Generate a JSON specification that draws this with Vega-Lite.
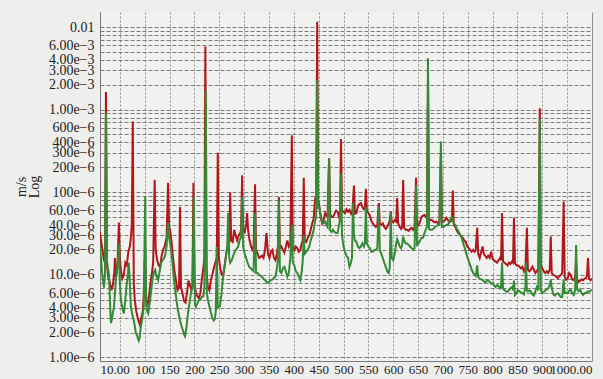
{
  "$schema": "https://vega.github.io/schema/vega-lite/v6.json",
  "width": 492,
  "height": 349,
  "autosize": {"type": "none"},
  "padding": {"left": 100, "top": 12, "right": 11, "bottom": 18},
  "background": "#eeeeec",
  "config": {
    "view": {"stroke": null, "fill": "#f1f1ef"},
    "font": "Liberation Serif"
  },
  "datasets": {
    "R": [
{"f":10,"y":3.3e-5},{"f":12,"y":2.6e-5},{"f":15,"y":2.0e-5},{"f":18,"y":1.5e-5},{"f":20,"y":1.4e-5},{"f":22,"y":1.63e-3},{"f":24,"y":1.3e-5},{"f":27,"y":9e-6},{"f":30,"y":8e-6},{"f":33,"y":6.5e-6},{"f":36,"y":7.5e-6},{"f":39,"y":1.1e-5},{"f":40,"y":1.6e-5},{"f":42,"y":9.4e-6},{"f":45,"y":1.2e-5},{"f":48,"y":4.3e-5},{"f":50,"y":1.6e-5},{"f":52,"y":1.14e-5},{"f":55,"y":9e-6},{"f":58,"y":1.0e-5},{"f":61,"y":1.4e-5},{"f":64,"y":1.3e-5},{"f":67,"y":1.9e-5},{"f":70,"y":2.2e-5},{"f":72,"y":2.8e-5},{"f":74,"y":4e-5},{"f":76,"y":7.2e-4},{"f":78,"y":8e-6},{"f":80,"y":5e-6},{"f":83,"y":3.6e-6},{"f":86,"y":3.0e-6},{"f":88,"y":2.7e-6},{"f":90,"y":2.5e-6},{"f":93,"y":3.0e-6},{"f":96,"y":3.6e-6},{"f":98,"y":5.5e-6},{"f":100,"y":1.5e-5},{"f":102,"y":6e-6},{"f":105,"y":4.2e-6},{"f":108,"y":5.0e-6},{"f":111,"y":7.5e-6},{"f":114,"y":1.0e-5},{"f":117,"y":1.4e-5},{"f":120,"y":1.41e-4},{"f":122,"y":2e-5},{"f":125,"y":1.5e-5},{"f":128,"y":1.3e-5},{"f":131,"y":1.25e-5},{"f":134,"y":1.7e-5},{"f":137,"y":2.0e-5},{"f":140,"y":2.2e-5},{"f":142,"y":2.5e-5},{"f":144,"y":2.8e-5},{"f":147,"y":1.3e-4},{"f":149,"y":3.8e-5},{"f":151,"y":3.5e-5},{"f":154,"y":2.5e-5},{"f":157,"y":1.6e-5},{"f":160,"y":1.1e-5},{"f":163,"y":8.5e-6},{"f":166,"y":6.5e-6},{"f":169,"y":7e-6},{"f":171,"y":6.6e-5},{"f":173,"y":7e-6},{"f":176,"y":6.0e-6},{"f":179,"y":4.8e-6},{"f":182,"y":4.6e-6},{"f":185,"y":6e-6},{"f":188,"y":8.5e-6},{"f":191,"y":7.5e-6},{"f":194,"y":6.5e-6},{"f":196,"y":7e-6},{"f":198,"y":1.3e-4},{"f":200,"y":8e-6},{"f":203,"y":6e-6},{"f":206,"y":5.5e-6},{"f":209,"y":5.2e-6},{"f":212,"y":6e-6},{"f":215,"y":9e-6},{"f":218,"y":1.2e-5},{"f":220,"y":1.6e-5},{"f":222,"y":5.8e-3},{"f":224,"y":1.2e-5},{"f":227,"y":7e-6},{"f":230,"y":6.5e-6},{"f":233,"y":8.5e-6},{"f":236,"y":1.0e-5},{"f":239,"y":1.2e-5},{"f":242,"y":1.4e-5},{"f":245,"y":1.6e-5},{"f":247,"y":3.0e-4},{"f":249,"y":1.6e-5},{"f":252,"y":1.2e-5},{"f":255,"y":1.0e-5},{"f":258,"y":1.0e-5},{"f":261,"y":1.3e-5},{"f":264,"y":1.8e-5},{"f":267,"y":2.2e-5},{"f":270,"y":2.4e-5},{"f":272,"y":1.0e-4},{"f":274,"y":2.6e-5},{"f":277,"y":2.5e-5},{"f":280,"y":3.5e-5},{"f":283,"y":3.0e-5},{"f":286,"y":2.6e-5},{"f":289,"y":3.0e-5},{"f":292,"y":3.2e-5},{"f":294,"y":3.5e-5},{"f":296,"y":1.6e-4},{"f":298,"y":3.5e-5},{"f":301,"y":3.3e-5},{"f":304,"y":4e-5},{"f":306,"y":5.6e-5},{"f":308,"y":3.5e-5},{"f":311,"y":2.6e-5},{"f":314,"y":2.2e-5},{"f":317,"y":2.0e-5},{"f":319,"y":2.1e-5},{"f":322,"y":1.25e-4},{"f":324,"y":2.0e-5},{"f":327,"y":1.8e-5},{"f":330,"y":1.6e-5},{"f":333,"y":1.65e-5},{"f":336,"y":1.7e-5},{"f":339,"y":1.6e-5},{"f":342,"y":2.0e-5},{"f":345,"y":3.2e-5},{"f":348,"y":1.8e-5},{"f":351,"y":1.6e-5},{"f":354,"y":1.9e-5},{"f":357,"y":2.0e-5},{"f":360,"y":1.6e-5},{"f":363,"y":1.5e-5},{"f":366,"y":1.8e-5},{"f":368,"y":2.2e-5},{"f":370,"y":8.75e-5},{"f":372,"y":2.1e-5},{"f":375,"y":2.2e-5},{"f":378,"y":2.0e-5},{"f":381,"y":1.85e-5},{"f":384,"y":2.2e-5},{"f":387,"y":2.6e-5},{"f":390,"y":2.2e-5},{"f":393,"y":2.4e-5},{"f":396,"y":4.9e-4},{"f":398,"y":2.2e-5},{"f":401,"y":2.0e-5},{"f":404,"y":2.2e-5},{"f":407,"y":2.1e-5},{"f":410,"y":1.9e-5},{"f":413,"y":2.0e-5},{"f":416,"y":2.4e-5},{"f":418,"y":2.6e-5},{"f":420,"y":1.5e-4},{"f":422,"y":2.6e-5},{"f":425,"y":2.5e-5},{"f":428,"y":2.8e-5},{"f":431,"y":3.0e-5},{"f":434,"y":3.5e-5},{"f":437,"y":4.2e-5},{"f":440,"y":4.8e-5},{"f":443,"y":8.5e-5},{"f":445,"y":9e-5},{"f":447,"y":0.0116},{"f":449,"y":8e-5},{"f":451,"y":7e-5},{"f":454,"y":5e-5},{"f":457,"y":4.2e-5},{"f":460,"y":4.6e-5},{"f":463,"y":5.6e-5},{"f":466,"y":5.2e-5},{"f":468,"y":5.5e-5},{"f":471,"y":2.6e-4},{"f":473,"y":5.5e-5},{"f":476,"y":5.0e-5},{"f":479,"y":5.0e-5},{"f":482,"y":5.5e-5},{"f":485,"y":6.0e-5},{"f":488,"y":5.8e-5},{"f":491,"y":5.0e-5},{"f":493,"y":5.5e-5},{"f":495,"y":4.4e-4},{"f":497,"y":6e-5},{"f":500,"y":5.8e-5},{"f":503,"y":5.6e-5},{"f":506,"y":6.2e-5},{"f":509,"y":5.8e-5},{"f":512,"y":6.1e-5},{"f":515,"y":5.5e-5},{"f":518,"y":6.0e-5},{"f":521,"y":1.2e-4},{"f":523,"y":5.5e-5},{"f":526,"y":5.6e-5},{"f":529,"y":6.8e-5},{"f":532,"y":7.2e-5},{"f":535,"y":7.4e-5},{"f":538,"y":6.6e-5},{"f":541,"y":6.2e-5},{"f":543,"y":6.4e-5},{"f":545,"y":1.1e-4},{"f":547,"y":6e-5},{"f":550,"y":5.6e-5},{"f":553,"y":5.2e-5},{"f":556,"y":4.5e-5},{"f":559,"y":4.2e-5},{"f":562,"y":4.0e-5},{"f":565,"y":3.8e-5},{"f":568,"y":4.0e-5},{"f":571,"y":7.4e-5},{"f":573,"y":4.2e-5},{"f":576,"y":4.0e-5},{"f":579,"y":4.2e-5},{"f":582,"y":3.8e-5},{"f":585,"y":3.6e-5},{"f":588,"y":3.8e-5},{"f":591,"y":4.2e-5},{"f":593,"y":4.5e-5},{"f":595,"y":5.8e-5},{"f":597,"y":4.5e-5},{"f":600,"y":4.3e-5},{"f":603,"y":4.6e-5},{"f":606,"y":4.4e-5},{"f":608,"y":8.5e-5},{"f":610,"y":4.2e-5},{"f":613,"y":3.8e-5},{"f":616,"y":3.6e-5},{"f":618,"y":3.8e-5},{"f":620,"y":1.4e-4},{"f":622,"y":3.7e-5},{"f":625,"y":3.5e-5},{"f":628,"y":3.5e-5},{"f":631,"y":3.4e-5},{"f":634,"y":3.6e-5},{"f":637,"y":3.7e-5},{"f":640,"y":3.5e-5},{"f":643,"y":3.8e-5},{"f":646,"y":1.5e-4},{"f":648,"y":3.8e-5},{"f":651,"y":4.0e-5},{"f":654,"y":4.4e-5},{"f":657,"y":5.0e-5},{"f":660,"y":5.2e-5},{"f":663,"y":5.3e-5},{"f":666,"y":5.0e-5},{"f":668,"y":4.8e-5},{"f":670,"y":2.5e-3},{"f":672,"y":4.8e-5},{"f":675,"y":4.6e-5},{"f":678,"y":4.6e-5},{"f":681,"y":4.4e-5},{"f":684,"y":4.3e-5},{"f":687,"y":4.4e-5},{"f":690,"y":4.2e-5},{"f":693,"y":4.4e-5},{"f":696,"y":3.0e-4},{"f":698,"y":4.4e-5},{"f":701,"y":4.4e-5},{"f":704,"y":4.6e-5},{"f":707,"y":4.9e-5},{"f":710,"y":4.6e-5},{"f":713,"y":4.3e-5},{"f":716,"y":4.5e-5},{"f":718,"y":4.5e-5},{"f":720,"y":1.05e-4},{"f":722,"y":4.0e-5},{"f":725,"y":3.8e-5},{"f":728,"y":3.4e-5},{"f":731,"y":3.2e-5},{"f":734,"y":3.1e-5},{"f":737,"y":2.9e-5},{"f":740,"y":2.8e-5},{"f":743,"y":2.6e-5},{"f":746,"y":2.5e-5},{"f":749,"y":2.2e-5},{"f":752,"y":2.1e-5},{"f":755,"y":2.0e-5},{"f":758,"y":1.9e-5},{"f":761,"y":2.0e-5},{"f":764,"y":1.9e-5},{"f":766,"y":2.0e-5},{"f":769,"y":3.7e-5},{"f":771,"y":1.8e-5},{"f":774,"y":1.6e-5},{"f":777,"y":1.9e-5},{"f":780,"y":2.2e-5},{"f":782,"y":1.8e-5},{"f":785,"y":1.7e-5},{"f":788,"y":1.6e-5},{"f":791,"y":1.7e-5},{"f":794,"y":1.6e-5},{"f":797,"y":1.9e-5},{"f":800,"y":1.55e-5},{"f":803,"y":1.5e-5},{"f":806,"y":1.45e-5},{"f":809,"y":1.4e-5},{"f":812,"y":1.5e-5},{"f":815,"y":1.6e-5},{"f":817,"y":1.5e-5},{"f":819,"y":5.6e-5},{"f":821,"y":1.45e-5},{"f":824,"y":1.4e-5},{"f":827,"y":1.35e-5},{"f":830,"y":1.3e-5},{"f":833,"y":1.4e-5},{"f":836,"y":1.35e-5},{"f":839,"y":1.45e-5},{"f":841,"y":1.4e-5},{"f":843,"y":4.9e-5},{"f":845,"y":1.4e-5},{"f":848,"y":1.3e-5},{"f":851,"y":1.3e-5},{"f":854,"y":1.25e-5},{"f":857,"y":1.2e-5},{"f":860,"y":1.25e-5},{"f":863,"y":1.1e-5},{"f":866,"y":1.2e-5},{"f":869,"y":3.7e-5},{"f":871,"y":1.15e-5},{"f":874,"y":1.1e-5},{"f":877,"y":1.15e-5},{"f":880,"y":1.25e-5},{"f":883,"y":1.15e-5},{"f":886,"y":1.05e-5},{"f":889,"y":1.1e-5},{"f":892,"y":1.2e-5},{"f":895,"y":1.04e-3},{"f":897,"y":1.3e-5},{"f":900,"y":1.2e-5},{"f":903,"y":1.1e-5},{"f":906,"y":1.05e-5},{"f":909,"y":1.1e-5},{"f":912,"y":1.05e-5},{"f":915,"y":1.15e-5},{"f":917,"y":2.9e-5},{"f":919,"y":1.05e-5},{"f":922,"y":1.0e-5},{"f":925,"y":9.8e-6},{"f":928,"y":9.5e-6},{"f":931,"y":9.1e-6},{"f":934,"y":9.5e-6},{"f":937,"y":1.0e-5},{"f":940,"y":1.05e-5},{"f":943,"y":7.7e-5},{"f":945,"y":9.5e-6},{"f":948,"y":8.7e-6},{"f":951,"y":9e-6},{"f":954,"y":1.05e-5},{"f":957,"y":1.0e-5},{"f":960,"y":8.8e-6},{"f":963,"y":8.6e-6},{"f":966,"y":9.2e-6},{"f":968,"y":1.5e-5},{"f":970,"y":8.8e-6},{"f":973,"y":8.2e-6},{"f":976,"y":8.5e-6},{"f":979,"y":8.8e-6},{"f":982,"y":8.6e-6},{"f":985,"y":9.0e-6},{"f":988,"y":9.1e-6},{"f":990,"y":1.0e-5},{"f":992,"y":1.6e-5},{"f":994,"y":9.0e-6},{"f":997,"y":8.6e-6},{"f":1000,"y":9e-6}
    ],
    "G": [
{"f":10,"y":2.2e-5},{"f":12,"y":1.6e-5},{"f":14,"y":1.1e-5},{"f":16,"y":8.5e-6},{"f":18,"y":7e-6},{"f":20,"y":1.0e-5},{"f":22,"y":9.1e-4},{"f":24,"y":1.5e-5},{"f":26,"y":1.2e-5},{"f":28,"y":1.0e-5},{"f":30,"y":5e-6},{"f":32,"y":2.6e-6},{"f":34,"y":2.9e-6},{"f":36,"y":3.5e-6},{"f":38,"y":4.0e-6},{"f":40,"y":6e-6},{"f":42,"y":8.6e-6},{"f":44,"y":1.1e-5},{"f":46,"y":1.5e-5},{"f":48,"y":2.4e-5},{"f":50,"y":8e-6},{"f":52,"y":5e-6},{"f":55,"y":4.0e-6},{"f":58,"y":3.4e-6},{"f":61,"y":5e-6},{"f":63,"y":7e-6},{"f":66,"y":1.0e-5},{"f":68,"y":1.4e-5},{"f":70,"y":8e-6},{"f":72,"y":4.1e-6},{"f":75,"y":3.3e-6},{"f":78,"y":2.8e-6},{"f":80,"y":2.4e-6},{"f":82,"y":2.0e-6},{"f":85,"y":1.8e-6},{"f":88,"y":1.6e-6},{"f":90,"y":1.75e-6},{"f":92,"y":2.3e-6},{"f":95,"y":3.0e-6},{"f":98,"y":4.0e-6},{"f":101,"y":9e-5},{"f":103,"y":4.5e-6},{"f":105,"y":3.6e-6},{"f":107,"y":3.4e-6},{"f":110,"y":4.5e-6},{"f":113,"y":6.5e-6},{"f":116,"y":9e-6},{"f":119,"y":1.1e-5},{"f":121,"y":1.15e-5},{"f":124,"y":9.5e-6},{"f":127,"y":8.6e-6},{"f":130,"y":1.1e-5},{"f":133,"y":1.4e-5},{"f":136,"y":1.5e-5},{"f":139,"y":1.6e-5},{"f":141,"y":1.7e-5},{"f":144,"y":2.2e-5},{"f":147,"y":4.3e-5},{"f":149,"y":2.8e-5},{"f":151,"y":2.4e-5},{"f":154,"y":1.8e-5},{"f":157,"y":1.15e-5},{"f":160,"y":7.5e-6},{"f":163,"y":5.4e-6},{"f":166,"y":4.0e-6},{"f":169,"y":3.2e-6},{"f":171,"y":2.8e-6},{"f":174,"y":2.4e-6},{"f":177,"y":2.1e-6},{"f":179,"y":1.9e-6},{"f":181,"y":1.8e-6},{"f":184,"y":2.3e-6},{"f":187,"y":3.4e-6},{"f":190,"y":4.5e-6},{"f":193,"y":6.0e-6},{"f":196,"y":7e-6},{"f":199,"y":8.75e-5},{"f":201,"y":4.5e-6},{"f":203,"y":4.1e-6},{"f":206,"y":4.5e-6},{"f":209,"y":4.9e-6},{"f":212,"y":5e-6},{"f":215,"y":5.4e-6},{"f":218,"y":5.5e-6},{"f":220,"y":7e-6},{"f":223,"y":1.7e-3},{"f":225,"y":6e-6},{"f":227,"y":5e-6},{"f":230,"y":4.2e-6},{"f":233,"y":3.5e-6},{"f":236,"y":3.0e-6},{"f":239,"y":2.8e-6},{"f":241,"y":2.9e-6},{"f":243,"y":3.6e-6},{"f":245,"y":2.2e-5},{"f":247,"y":4e-6},{"f":249,"y":4.1e-6},{"f":251,"y":4.1e-6},{"f":254,"y":5.5e-6},{"f":257,"y":8.6e-6},{"f":260,"y":1.2e-5},{"f":263,"y":1.6e-5},{"f":266,"y":2.2e-5},{"f":268,"y":5.6e-5},{"f":270,"y":1.6e-5},{"f":272,"y":1.4e-5},{"f":275,"y":1.5e-5},{"f":278,"y":1.7e-5},{"f":280,"y":1.85e-5},{"f":283,"y":2.0e-5},{"f":286,"y":2.1e-5},{"f":288,"y":2.2e-5},{"f":291,"y":2.6e-5},{"f":294,"y":2.9e-5},{"f":296,"y":8.75e-5},{"f":298,"y":2.2e-5},{"f":301,"y":1.8e-5},{"f":304,"y":1.6e-5},{"f":307,"y":1.4e-5},{"f":310,"y":1.25e-5},{"f":313,"y":1.2e-5},{"f":316,"y":1.15e-5},{"f":319,"y":1.1e-5},{"f":322,"y":5.6e-5},{"f":324,"y":1.05e-5},{"f":327,"y":1.05e-5},{"f":330,"y":1.0e-5},{"f":333,"y":9.8e-6},{"f":336,"y":9.4e-6},{"f":339,"y":9e-6},{"f":342,"y":8.6e-6},{"f":345,"y":8.2e-6},{"f":348,"y":8.0e-6},{"f":351,"y":8.3e-6},{"f":354,"y":8.6e-6},{"f":357,"y":8.8e-6},{"f":360,"y":9.2e-6},{"f":363,"y":9.5e-6},{"f":366,"y":1.2e-5},{"f":368,"y":1.5e-5},{"f":370,"y":8e-5},{"f":372,"y":1.1e-5},{"f":375,"y":1.05e-5},{"f":378,"y":1.2e-5},{"f":381,"y":1.25e-5},{"f":384,"y":1.1e-5},{"f":387,"y":9.5e-6},{"f":390,"y":1.05e-5},{"f":393,"y":1.6e-5},{"f":396,"y":4e-5},{"f":398,"y":1.4e-5},{"f":401,"y":1.3e-5},{"f":404,"y":1.1e-5},{"f":407,"y":1.05e-5},{"f":410,"y":9.5e-6},{"f":413,"y":8.6e-6},{"f":416,"y":1.1e-5},{"f":418,"y":1.5e-5},{"f":420,"y":3e-5},{"f":422,"y":1.8e-5},{"f":425,"y":1.9e-5},{"f":428,"y":2.0e-5},{"f":431,"y":2.2e-5},{"f":434,"y":2.6e-5},{"f":437,"y":3.0e-5},{"f":440,"y":3.5e-5},{"f":443,"y":4.5e-5},{"f":445,"y":5e-5},{"f":447,"y":2.3e-3},{"f":449,"y":6.5e-5},{"f":451,"y":6.6e-5},{"f":454,"y":5.5e-5},{"f":457,"y":4.3e-5},{"f":460,"y":4.2e-5},{"f":463,"y":4.4e-5},{"f":466,"y":4.0e-5},{"f":468,"y":3.8e-5},{"f":471,"y":2.6e-4},{"f":473,"y":3.5e-5},{"f":476,"y":3.3e-5},{"f":479,"y":3.5e-5},{"f":482,"y":3.3e-5},{"f":485,"y":3.2e-5},{"f":488,"y":3.2e-5},{"f":491,"y":4.0e-5},{"f":493,"y":4.6e-5},{"f":495,"y":1.7e-4},{"f":497,"y":3.0e-5},{"f":500,"y":2.2e-5},{"f":503,"y":1.9e-5},{"f":506,"y":1.7e-5},{"f":509,"y":1.6e-5},{"f":512,"y":1.25e-5},{"f":515,"y":1.4e-5},{"f":517,"y":1.6e-5},{"f":519,"y":7.4e-5},{"f":521,"y":3.0e-5},{"f":523,"y":2.6e-5},{"f":526,"y":2.5e-5},{"f":529,"y":2.2e-5},{"f":532,"y":2.1e-5},{"f":535,"y":2.2e-5},{"f":538,"y":2.4e-5},{"f":541,"y":2.2e-5},{"f":543,"y":2.4e-5},{"f":545,"y":6.6e-5},{"f":547,"y":2.4e-5},{"f":550,"y":2.2e-5},{"f":553,"y":2.1e-5},{"f":556,"y":1.9e-5},{"f":559,"y":1.9e-5},{"f":562,"y":2.0e-5},{"f":565,"y":2.0e-5},{"f":568,"y":2.1e-5},{"f":571,"y":6.6e-5},{"f":573,"y":2.0e-5},{"f":576,"y":1.8e-5},{"f":579,"y":1.6e-5},{"f":582,"y":1.4e-5},{"f":585,"y":1.25e-5},{"f":588,"y":1.1e-5},{"f":591,"y":1.05e-5},{"f":593,"y":1.2e-5},{"f":595,"y":5.6e-5},{"f":597,"y":1.6e-5},{"f":600,"y":1.5e-5},{"f":603,"y":1.8e-5},{"f":606,"y":2.4e-5},{"f":608,"y":2.7e-5},{"f":610,"y":2.5e-5},{"f":613,"y":2.2e-5},{"f":616,"y":2.1e-5},{"f":618,"y":2.3e-5},{"f":620,"y":2.9e-5},{"f":622,"y":2.6e-5},{"f":625,"y":2.4e-5},{"f":628,"y":2.4e-5},{"f":631,"y":2.3e-5},{"f":634,"y":2.2e-5},{"f":637,"y":2.1e-5},{"f":640,"y":2.0e-5},{"f":643,"y":2.1e-5},{"f":646,"y":1.2e-4},{"f":648,"y":2.3e-5},{"f":651,"y":2.4e-5},{"f":654,"y":2.6e-5},{"f":657,"y":2.8e-5},{"f":660,"y":2.8e-5},{"f":663,"y":3.2e-5},{"f":666,"y":3.6e-5},{"f":668,"y":3.8e-5},{"f":670,"y":4.2e-3},{"f":672,"y":3.6e-5},{"f":675,"y":3.5e-5},{"f":678,"y":3.5e-5},{"f":681,"y":3.6e-5},{"f":684,"y":3.8e-5},{"f":687,"y":3.9e-5},{"f":690,"y":4.0e-5},{"f":693,"y":4.0e-5},{"f":696,"y":4.1e-4},{"f":698,"y":3.8e-5},{"f":701,"y":3.8e-5},{"f":704,"y":3.9e-5},{"f":707,"y":4.0e-5},{"f":710,"y":4.0e-5},{"f":713,"y":4.4e-5},{"f":716,"y":4.8e-5},{"f":718,"y":5.0e-5},{"f":720,"y":4.6e-5},{"f":722,"y":4.2e-5},{"f":725,"y":4.0e-5},{"f":728,"y":3.6e-5},{"f":731,"y":3.4e-5},{"f":734,"y":3.1e-5},{"f":737,"y":2.9e-5},{"f":740,"y":2.5e-5},{"f":743,"y":2.2e-5},{"f":746,"y":1.9e-5},{"f":749,"y":1.65e-5},{"f":752,"y":1.45e-5},{"f":755,"y":1.3e-5},{"f":758,"y":1.15e-5},{"f":761,"y":1.05e-5},{"f":764,"y":1.0e-5},{"f":766,"y":9.7e-6},{"f":769,"y":1.3e-5},{"f":771,"y":9.4e-6},{"f":774,"y":9.0e-6},{"f":777,"y":8.8e-6},{"f":780,"y":8.6e-6},{"f":782,"y":8.4e-6},{"f":785,"y":8.0e-6},{"f":788,"y":8.4e-6},{"f":791,"y":8.6e-6},{"f":794,"y":8.2e-6},{"f":797,"y":7.8e-6},{"f":800,"y":8.0e-6},{"f":803,"y":7.4e-6},{"f":806,"y":7.1e-6},{"f":809,"y":7.5e-6},{"f":812,"y":7.3e-6},{"f":815,"y":6.8e-6},{"f":817,"y":7.0e-6},{"f":819,"y":1.4e-5},{"f":821,"y":6.8e-6},{"f":824,"y":6.5e-6},{"f":827,"y":6.3e-6},{"f":830,"y":6.2e-6},{"f":833,"y":6.5e-6},{"f":836,"y":6.9e-6},{"f":839,"y":7.1e-6},{"f":841,"y":6.5e-6},{"f":843,"y":8.5e-6},{"f":845,"y":5.7e-6},{"f":848,"y":6.0e-6},{"f":851,"y":6.5e-6},{"f":854,"y":6.3e-6},{"f":857,"y":6.1e-6},{"f":860,"y":6.0e-6},{"f":863,"y":5.8e-6},{"f":866,"y":7e-6},{"f":867,"y":1.4e-5},{"f":869,"y":6.5e-6},{"f":871,"y":6.3e-6},{"f":874,"y":6.5e-6},{"f":877,"y":6.2e-6},{"f":880,"y":5.8e-6},{"f":883,"y":5.6e-6},{"f":886,"y":6.3e-6},{"f":889,"y":7.1e-6},{"f":892,"y":6.5e-6},{"f":895,"y":7.8e-4},{"f":897,"y":6.5e-6},{"f":900,"y":6.0e-6},{"f":903,"y":6.2e-6},{"f":906,"y":6.5e-6},{"f":909,"y":6.6e-6},{"f":912,"y":6.9e-6},{"f":915,"y":7.5e-6},{"f":917,"y":8.7e-6},{"f":919,"y":7e-6},{"f":922,"y":5.8e-6},{"f":925,"y":5.6e-6},{"f":928,"y":5.9e-6},{"f":931,"y":6.0e-6},{"f":934,"y":5.7e-6},{"f":937,"y":5.4e-6},{"f":940,"y":5.4e-6},{"f":943,"y":8.7e-6},{"f":945,"y":6.0e-6},{"f":948,"y":6.1e-6},{"f":951,"y":6.0e-6},{"f":954,"y":6.4e-6},{"f":957,"y":6.6e-6},{"f":960,"y":6.0e-6},{"f":963,"y":5.7e-6},{"f":966,"y":6.5e-6},{"f":968,"y":2.3e-5},{"f":970,"y":6.6e-6},{"f":973,"y":6.3e-6},{"f":976,"y":6.6e-6},{"f":979,"y":6.0e-6},{"f":982,"y":5.7e-6},{"f":985,"y":6.0e-6},{"f":988,"y":6.0e-6},{"f":991,"y":6.3e-6},{"f":994,"y":6.2e-6},{"f":997,"y":6.4e-6},{"f":1000,"y":6.6e-6}
    ]
  },
  "encoding": {
    "x": {
      "field": "f", "type": "quantitative",
      "scale": {"domain": [10, 1000], "nice": false, "zero": false},
      "axis": {
        "title": null,
        "values": [10,50,100,150,200,250,300,350,400,450,500,550,600,650,700,750,800,850,900,950,1000],
        "labelExpr": "datum.value == 10 ? '10.00' : datum.value == 1000 ? '1000.00' : (datum.value == 50 || datum.value == 950) ? '' : format(datum.value, 'd')",
        "labelFont": "Liberation Serif", "labelFontSize": 13, "labelColor": "#222",
        "labelPadding": 2, "labelFlush": true, "labelOverlap": false,
        "ticks": false,
        "domainColor": "#777", "domainWidth": 1,
        "grid": true, "gridColor": "#666", "gridOpacity": 0.7, "gridWidth": 1,
        "gridDash": {"condition": {"test": "datum.value == 1000", "value": []}, "value": [2, 2]}
      }
    },
    "y": {
      "field": "y", "type": "quantitative",
      "scale": {"type": "log", "domain": [9.04e-7, 0.0152], "nice": false},
      "axis": {
        "title": ["m/s", "Log"],
        "titleFont": "Liberation Serif", "titleFontSize": 14, "titleFontWeight": "normal", "titleColor": "#222",
        "titleLineHeight": 13,
        "titlePadding": 7,
        "values": [1e-6,2e-6,3e-6,4e-6,5e-6,6e-6,7e-6,8e-6,9e-6,1e-5,2e-5,3e-5,4e-5,5e-5,6e-5,7e-5,8e-5,9e-5,1e-4,2e-4,3e-4,4e-4,5e-4,6e-4,7e-4,8e-4,9e-4,1e-3,2e-3,3e-3,4e-3,5e-3,6e-3,7e-3,8e-3,9e-3,1e-2],
        "labelExpr": "datum.value > 0.0099 ? '0.01' : indexof([1,2,3,4,6], round(datum.value / pow(10, floor(log(datum.value) / LN10 + 1e-9)))) < 0 ? '' : replace(replace(format(datum.value, '.3s'), 'm', 'e\u22123'), '\u00b5', 'e\u22126')",
        "labelFont": "Liberation Serif", "labelFontSize": 14, "labelColor": "#222",
        "labelPadding": 6, "labelOverlap": false,
        "ticks": false,
        "domainColor": "#777", "domainWidth": 1,
        "grid": true, "gridColor": "#555", "gridOpacity": 0.75, "gridWidth": 1,
        "gridDash": [4, 2]
      }
    }
  },
  "layer": [
    {
      "data": {"name": "R"},
      "mark": {"type": "line", "color": "#b0161b", "strokeWidth": 2, "clip": true}
    },
    {
      "data": {"name": "G"},
      "mark": {"type": "line", "color": "#348a36", "strokeWidth": 2, "clip": true}
    }
  ]
}
